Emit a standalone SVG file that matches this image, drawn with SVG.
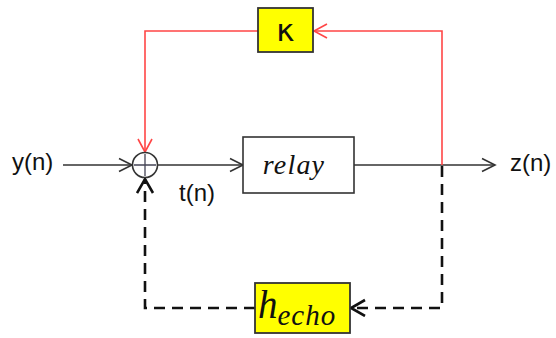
<svg xmlns="http://www.w3.org/2000/svg" width="556" height="338" viewBox="0 0 556 338">
<defs>
<style>
.lbl{font-family:"Liberation Sans",Arial,sans-serif;font-size:24px;fill:#111}
.blk{fill:none;stroke:#333;stroke-width:1.6}
.red{fill:none;stroke:#ff4646;stroke-width:1.6}
.dash{fill:none;stroke:#111;stroke-width:2.6;stroke-dasharray:11 7}
.box{fill:#fff;stroke:#333;stroke-width:1.6}
.ybox{fill:#ffff00;stroke:#333;stroke-width:1.8}
.math{font-family:"Liberation Serif","Times New Roman",serif;font-style:italic;fill:#111}
</style>
<marker id="ab" markerWidth="18" markerHeight="18" refX="14" refY="8" orient="auto" markerUnits="userSpaceOnUse">
<path d="M1,1.5 L14,8 L1,14.5" fill="none" stroke="#333" stroke-width="1.6"/>
</marker>
<marker id="ar" markerWidth="18" markerHeight="18" refX="14" refY="8" orient="auto" markerUnits="userSpaceOnUse">
<path d="M1,1 L14,8 L1,15" fill="none" stroke="#ff4646" stroke-width="1.6"/>
</marker>
<marker id="ad" markerWidth="20" markerHeight="20" refX="15" refY="9" orient="auto" markerUnits="userSpaceOnUse">
<path d="M1,1 L15,9 L1,17" fill="none" stroke="#111" stroke-width="2.6"/>
</marker>
</defs>
<rect width="556" height="338" fill="#fff"/>
<g id="connectors">
<path class="blk" d="M63,165 H132" marker-end="url(#ab)"/>
<path class="blk" d="M158,165 H243" marker-end="url(#ab)"/>
<path class="blk" d="M354,165 H495" marker-end="url(#ab)"/>
<path class="red" d="M258,31 H145 V152" marker-end="url(#ar)"/>
<path class="red" d="M442,165 V31 H314" marker-end="url(#ar)"/>
<path class="dash" d="M442,166 V308 H351" marker-end="url(#ad)"/>
<path class="dash" d="M255,308 H145 V179" marker-end="url(#ad)"/>
</g>
<g id="sum">
<circle cx="145" cy="165" r="12.5" fill="#fff" stroke="#333" stroke-width="1.6"/>
<path d="M145,154 V176 M134,165 H156" stroke="#445" stroke-width="1.3" fill="none"/>
</g>
<g id="relay">
<rect class="box" x="243" y="137" width="111" height="56"/>
<text class="math" x="294" y="174" font-size="28" text-anchor="middle" letter-spacing="1.2">relay</text>
</g>
<g id="kappa">
<rect class="ybox" x="258" y="8" width="55" height="44"/>
<text x="285.5" y="41" font-family="DejaVu Sans,sans-serif" font-size="31" text-anchor="middle" fill="#111">κ</text>
</g>
<g id="hecho">
<rect class="ybox" x="255" y="283" width="95" height="50"/>
<text class="math" x="258" y="318" font-size="39">h<tspan font-size="29" dy="7" letter-spacing="1">echo</tspan></text>
</g>
<g id="labels">
<text class="lbl" x="12" y="170">y(n)</text>
<text class="lbl" x="179" y="201">t(n)</text>
<text class="lbl" x="510" y="171">z(n)</text>
</g>
</svg>
